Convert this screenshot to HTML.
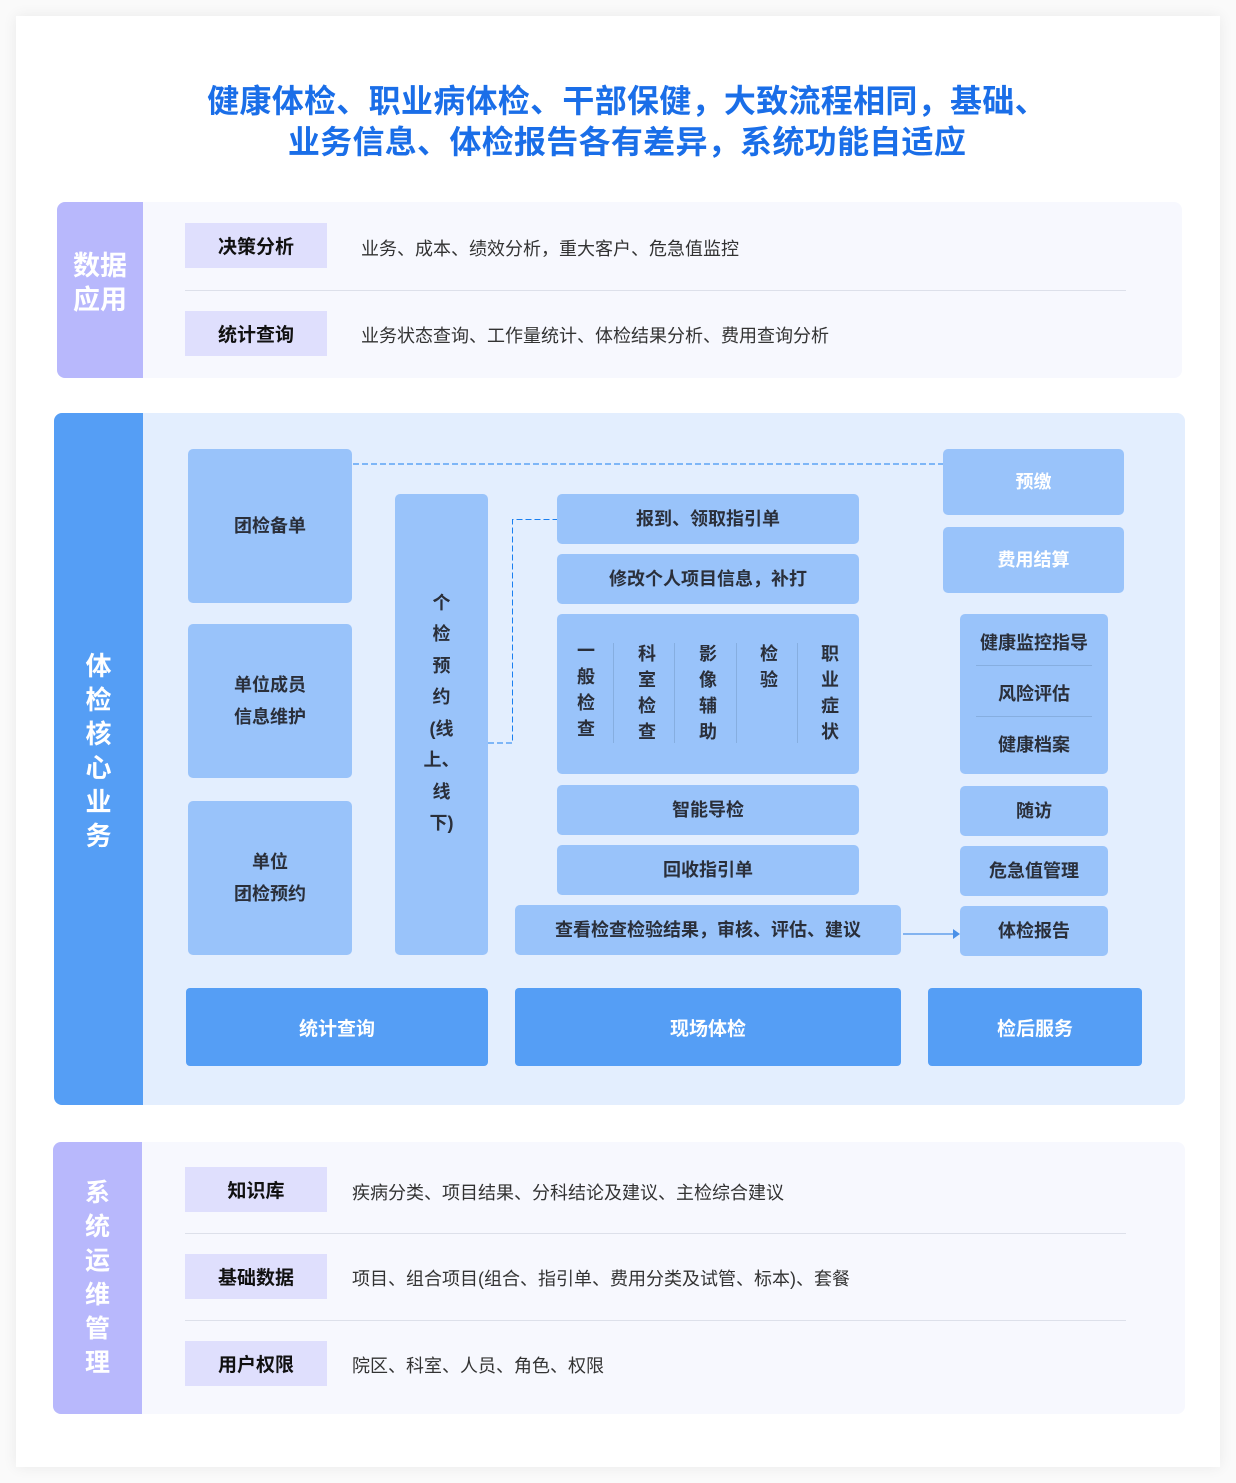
<!DOCTYPE html>
<html><head><meta charset="utf-8"><style>
*{margin:0;padding:0;box-sizing:border-box}
body{width:1236px;height:1483px;background:#fafafa;position:relative;font-family:"Liberation Sans","Noto Sans CJK SC",sans-serif;overflow:hidden}
.a{position:absolute}
.card{left:16px;top:16px;width:1204px;height:1451px;background:#fff;box-shadow:0 0 14px rgba(0,0,0,0.07)}
.title{left:0;width:1236px;top:81px;text-align:center;color:#1a6ee8;font-size:32px;letter-spacing:0.3px;font-weight:bold;line-height:41px;padding-left:18px}
.lbl{color:#fff;font-weight:bold;display:flex;align-items:center;justify-content:center;text-align:center}
.tag{background:#dfdffd;color:#111;font-size:19px;font-weight:bold;display:flex;align-items:center;justify-content:center}
.txt{font-size:18px;color:#333}
.hr{height:1px;background:#dde0ea}
.b{background:#99c3fa;border-radius:5px;color:#2a2f3a;font-size:18px;font-weight:bold;display:flex;align-items:center;justify-content:center;text-align:center;line-height:32px}
.d{background:#559ef5;border-radius:4px;color:#fff;font-size:19px;font-weight:bold;display:flex;align-items:center;justify-content:center}
.col{font-size:18px;font-weight:bold;color:#2a2f3a;width:24px;text-align:center;line-height:26px}
.vl{width:1px;background:#86aee0;top:643px;height:100px}
</style></head><body>
<div class="a card"></div>
<div class="a title">健康体检、职业病体检、干部保健，大致流程相同，基础、<br>业务信息、体检报告各有差异，系统功能自适应</div>

<!-- section 1 -->
<div class="a" style="left:57px;top:202px;width:1125px;height:176px;background:#f7f8fe;border-radius:8px"></div>
<div class="a lbl" style="left:57px;top:202px;width:86px;height:176px;background:#b8b8fc;border-radius:8px 0 0 8px;font-size:27px;line-height:34px;padding-bottom:14px">数据<br>应用</div>
<div class="a tag" style="left:185px;top:223px;width:142px;height:45px">决策分析</div>
<div class="a txt" style="left:361px;top:235px">业务、成本、绩效分析，重大客户、危急值监控</div>
<div class="a hr" style="left:185px;top:290px;width:941px"></div>
<div class="a tag" style="left:185px;top:311px;width:142px;height:45px">统计查询</div>
<div class="a txt" style="left:361px;top:322px">业务状态查询、工作量统计、体检结果分析、费用查询分析</div>

<!-- section 2 -->
<div class="a" style="left:54px;top:413px;width:1131px;height:692px;background:#e3eefe;border-radius:8px"></div>
<div class="a lbl" style="left:54px;top:413px;width:89px;height:692px;background:#559ef5;border-radius:8px 0 0 8px;font-size:26px;line-height:34px;padding-bottom:16px">体<br>检<br>核<br>心<br>业<br>务</div>

<svg class="a" style="left:0;top:0" width="1236" height="1483">
<line x1="353" y1="464" x2="943" y2="464" stroke="#1a7ff0" stroke-width="1" stroke-dasharray="6,3"/>
<polyline points="488,743 512.5,743 512.5,519.5 557,519.5" fill="none" stroke="#1a7ff0" stroke-width="1" stroke-dasharray="6,3"/>
<line x1="903" y1="934" x2="955" y2="934" stroke="#4a90e8" stroke-width="1.3"/>
<polygon points="953,929 960,934 953,939" fill="#4a90e8"/>
</svg>

<div class="a b" style="left:188px;top:449px;width:164px;height:154px">团检备单</div>
<div class="a b" style="left:188px;top:624px;width:164px;height:154px">单位成员<br>信息维护</div>
<div class="a b" style="left:188px;top:801px;width:164px;height:154px">单位<br>团检预约</div>
<div class="a b" style="left:395px;top:494px;width:93px;height:461px;line-height:31.5px;padding-bottom:22px">个<br>检<br>预<br>约<br>(线<br>上、<br>线<br>下)</div>
<div class="a b" style="left:557px;top:494px;width:302px;height:50px">报到、领取指引单</div>
<div class="a b" style="left:557px;top:554px;width:302px;height:50px">修改个人项目信息，补打</div>
<div class="a b" style="left:557px;top:614px;width:302px;height:160px"></div>
<div class="a col" style="left:574px;top:638px">一<br>般<br>检<br>查</div>
<div class="a col" style="left:635px;top:641px">科<br>室<br>检<br>查</div>
<div class="a col" style="left:696px;top:641px">影<br>像<br>辅<br>助</div>
<div class="a col" style="left:757px;top:641px">检<br>验</div>
<div class="a col" style="left:818px;top:641px">职<br>业<br>症<br>状</div>
<div class="a vl" style="left:613px"></div>
<div class="a vl" style="left:674px"></div>
<div class="a vl" style="left:736px"></div>
<div class="a vl" style="left:797px"></div>
<div class="a b" style="left:557px;top:785px;width:302px;height:50px">智能导检</div>
<div class="a b" style="left:557px;top:845px;width:302px;height:50px">回收指引单</div>
<div class="a b" style="left:515px;top:905px;width:386px;height:50px">查看检查检验结果，审核、评估、建议</div>
<div class="a b" style="left:943px;top:449px;width:181px;height:66px;color:#fff">预缴</div>
<div class="a b" style="left:943px;top:527px;width:181px;height:66px;color:#fff">费用结算</div>
<div class="a b" style="left:960px;top:614px;width:148px;height:160px;display:block;padding-top:13px">
<div>健康监控指导</div><div style="height:1px;background:#86aee0;margin:6px 16px 12px"></div>
<div>风险评估</div><div style="height:1px;background:#86aee0;margin:6px 16px 12px"></div>
<div>健康档案</div></div>
<div class="a b" style="left:960px;top:786px;width:148px;height:50px">随访</div>
<div class="a b" style="left:960px;top:846px;width:148px;height:50px">危急值管理</div>
<div class="a b" style="left:960px;top:906px;width:148px;height:50px">体检报告</div>
<div class="a d" style="left:186px;top:988px;width:302px;height:78px">统计查询</div>
<div class="a d" style="left:515px;top:988px;width:386px;height:78px">现场体检</div>
<div class="a d" style="left:928px;top:988px;width:214px;height:78px">检后服务</div>

<!-- section 3 -->
<div class="a" style="left:53px;top:1142px;width:1132px;height:272px;background:#f7f8fe;border-radius:8px"></div>
<div class="a lbl" style="left:53px;top:1142px;width:89px;height:272px;background:#b8b8fc;border-radius:8px 0 0 8px;font-size:25px;line-height:34px">系<br>统<br>运<br>维<br>管<br>理</div>
<div class="a tag" style="left:185px;top:1167px;width:142px;height:45px">知识库</div>
<div class="a txt" style="left:352px;top:1179px">疾病分类、项目结果、分科结论及建议、主检综合建议</div>
<div class="a hr" style="left:185px;top:1233px;width:941px"></div>
<div class="a tag" style="left:185px;top:1254px;width:142px;height:45px">基础数据</div>
<div class="a txt" style="left:352px;top:1265px">项目、组合项目(组合、指引单、费用分类及试管、标本)、套餐</div>
<div class="a hr" style="left:185px;top:1320px;width:941px"></div>
<div class="a tag" style="left:185px;top:1341px;width:142px;height:45px">用户权限</div>
<div class="a txt" style="left:352px;top:1352px">院区、科室、人员、角色、权限</div>
</body></html>
